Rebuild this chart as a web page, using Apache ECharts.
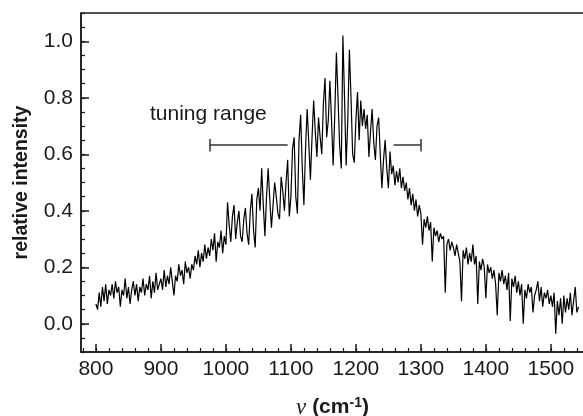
<!DOCTYPE html>
<html>
<head>
<meta charset="utf-8">
<script src="https://cdn.jsdelivr.net/npm/echarts@6/dist/echarts.min.js"></script>
<style>
  html, body { margin: 0; background: #fff; }
  #chart { width: 583px; height: 416px; }
</style>
</head>
<body>
<div id="chart"></div>
<script>
// spectrum sampled every 2.5 cm-1 starting at 800 cm-1
const waveStart = 800;
const waveStep = 2.5;

// 800 - 997.5
const lowWing = [
  0.07, 0.05, 0.11, 0.06, 0.13, 0.08, 0.14, 0.07, 0.12, 0.10,
  0.14, 0.09, 0.15, 0.11, 0.13, 0.06, 0.12, 0.10, 0.16, 0.09,
  0.13, 0.07, 0.12, 0.15, 0.10, 0.14, 0.08, 0.13, 0.11, 0.16,
  0.10, 0.14, 0.12, 0.17, 0.09, 0.15, 0.11, 0.18, 0.12, 0.14,
  0.16, 0.12, 0.19, 0.13, 0.17, 0.14, 0.20, 0.15, 0.10, 0.17,
  0.15, 0.21, 0.17, 0.19, 0.14, 0.22, 0.18, 0.20, 0.16, 0.21,
  0.19, 0.24, 0.21, 0.26, 0.20, 0.25, 0.22, 0.28, 0.23, 0.27,
  0.24, 0.30, 0.26, 0.32, 0.22, 0.29, 0.27, 0.33, 0.25, 0.31,
];

// 1000 - 1297.5
const fringes = [
  0.28, 0.43, 0.35, 0.29, 0.38, 0.42, 0.30, 0.36, 0.40, 0.31,
  0.29, 0.37, 0.41, 0.32, 0.28, 0.40, 0.46, 0.33, 0.27, 0.44,
  0.48, 0.40, 0.55, 0.42, 0.31, 0.45, 0.55, 0.44, 0.34, 0.42,
  0.50, 0.45, 0.39, 0.37, 0.52, 0.47, 0.40, 0.50, 0.58, 0.38,
  0.45, 0.62, 0.66, 0.45, 0.39, 0.65, 0.74, 0.55, 0.42, 0.62,
  0.76, 0.64, 0.51, 0.66, 0.79, 0.68, 0.59, 0.73, 0.66, 0.60,
  0.78, 0.87, 0.66, 0.72, 0.86, 0.72, 0.56, 0.74, 0.96, 0.80,
  0.63, 0.55, 1.02, 0.80, 0.56, 0.72, 0.97, 0.80, 0.60, 0.57,
  0.72, 0.82, 0.65, 0.79, 0.70, 0.76, 0.69, 0.74, 0.59, 0.68,
  0.76, 0.64, 0.58, 0.70, 0.73, 0.60, 0.48, 0.58, 0.65, 0.55,
  0.48, 0.61, 0.53, 0.56, 0.49, 0.54, 0.50, 0.55, 0.48, 0.52,
  0.47, 0.50, 0.44, 0.48, 0.42, 0.46, 0.40, 0.44, 0.38, 0.42,
];

// 1300 - 1542.5
const highWing = [
  0.39, 0.28, 0.37, 0.34, 0.38, 0.33, 0.36, 0.22, 0.34, 0.31,
  0.33, 0.29, 0.32, 0.30, 0.31, 0.11, 0.28, 0.30, 0.26, 0.29,
  0.27, 0.24, 0.28, 0.25, 0.22, 0.08, 0.26, 0.23, 0.27, 0.21,
  0.25, 0.22, 0.28, 0.21, 0.24, 0.07, 0.22, 0.19, 0.23, 0.20,
  0.09, 0.21, 0.18, 0.20, 0.16, 0.19, 0.14, 0.03, 0.18, 0.15,
  0.19, 0.14, 0.17, 0.12, 0.18, 0.01, 0.16, 0.13, 0.17, 0.11,
  0.15, 0.10, 0.14, 0.00, 0.12, 0.09, 0.14, 0.11, 0.13, 0.04,
  0.10, 0.12, 0.15, 0.08, 0.13, 0.06, 0.11, 0.09, 0.12, 0.07,
  0.10, 0.06, 0.11, -0.035, 0.08, 0.03, 0.09, 0.00, 0.10, 0.04,
  0.09, 0.05, 0.11, 0.03, 0.08, 0.13, 0.04, 0.06,
];

const xMajorTicks = [800, 900, 1000, 1100, 1200, 1300, 1400, 1500];
const yMajorTicks = [0, 0.2, 0.4, 0.6, 0.8, 1.0];

const tuningRange = [975, 1300];
const tuningGap = [1095, 1258];
const tuningLevel = 0.632;
const tuningLabel = "tuning range";

const intensity = lowWing.concat(fringes, highWing);
const spectrum = intensity.map((v, i) => [waveStart + i * waveStep, v]);

const xMinorTicks = [];
for (let t = 780; t <= 1540; t += 20) xMinorTicks.push(t);

const ink = "#1a1a1a";
const font = "Liberation Sans";

const chart = echarts.init(document.getElementById("chart"));
chart.setOption({
  animation: false,
  backgroundColor: "#fff",
  textStyle: { fontFamily: font, color: ink },
  grid: {
    left: 81, top: 13, width: 503, height: 339,
    containLabel: false, outerBoundsMode: "none",
    show: true, borderColor: ink, borderWidth: 1.5,
  },
  xAxis: [
    {
      type: "value", min: 777, max: 1551, position: "bottom",
      axisLine: { show: true, onZero: false, lineStyle: { color: ink, width: 1.5 } },
      axisTick: { show: true, inside: true, length: 8, customValues: xMajorTicks,
        lineStyle: { color: ink, width: 1.5 } },
      axisLabel: { customValues: xMajorTicks, fontSize: 21, color: ink, margin: 7,
        formatter: (v) => String(v) },
      splitLine: { show: false },
      name: "{nu|ν} (cm{sup|-1})",
      nameLocation: "middle",
      nameGap: 44,
      nameTextStyle: {
        fontSize: 21, fontWeight: "bold", color: ink,
        rich: {
          nu: { fontFamily: "Liberation Serif", fontStyle: "italic", fontWeight: "normal", fontSize: 23 },
          sup: { fontSize: 14, fontWeight: "bold", verticalAlign: "top", padding: [0, 0, 9, 0] },
        },
      },
    },
    {
      type: "value", min: 777, max: 1551, position: "bottom",
      axisLine: { show: false, onZero: false },
      axisTick: { show: true, inside: true, length: 4, customValues: xMinorTicks,
        lineStyle: { color: ink, width: 1.2 } },
      axisLabel: { show: false },
      splitLine: { show: false },
    },
  ],
  yAxis: [
    {
      type: "value", min: -0.1, max: 1.1, position: "left",
      axisLine: { show: true, onZero: false, lineStyle: { color: ink, width: 1.5 } },
      axisTick: { show: true, inside: true, length: 8, customValues: yMajorTicks,
        lineStyle: { color: ink, width: 1.5 } },
      axisLabel: { customValues: yMajorTicks, fontSize: 21, color: ink, margin: 8,
        formatter: (v) => v.toFixed(1) },
      splitLine: { show: false },
      name: "relative intensity",
      nameLocation: "middle",
      nameGap: 49,
      nameTextStyle: { fontSize: 19.5, fontWeight: "bold", color: ink },
    },
    {
      type: "value", min: -0.1, max: 1.1, interval: 0.05, position: "left",
      axisLine: { show: false, onZero: false },
      axisTick: { show: true, inside: true, length: 4, lineStyle: { color: ink, width: 1.2 } },
      axisLabel: { show: false },
      splitLine: { show: false },
    },
  ],
  series: [
    {
      type: "line",
      data: spectrum,
      showSymbol: false,
      lineStyle: { color: "#000", width: 1.2 },
      markLine: {
        silent: true,
        symbol: "none",
        label: { show: false },
        lineStyle: { color: "#333", width: 1.5, type: "solid" },
        data: [
          [{ coord: [tuningRange[0], tuningLevel] }, { coord: [tuningGap[0], tuningLevel] }],
          [{ coord: [tuningGap[1], tuningLevel] }, { coord: [tuningRange[1], tuningLevel] }],
          [{ coord: [tuningRange[0], tuningLevel - 0.022] }, { coord: [tuningRange[0], tuningLevel + 0.022] }],
          [{ coord: [tuningRange[1], tuningLevel - 0.022] }, { coord: [tuningRange[1], tuningLevel + 0.022] }],
        ],
      },
    },
  ],
  graphic: [
    {
      type: "text", left: 150, top: 104,
      style: { text: tuningLabel, font: `21px "${font}"`, fill: ink },
    },
  ],
});
</script>
</body>
</html>
